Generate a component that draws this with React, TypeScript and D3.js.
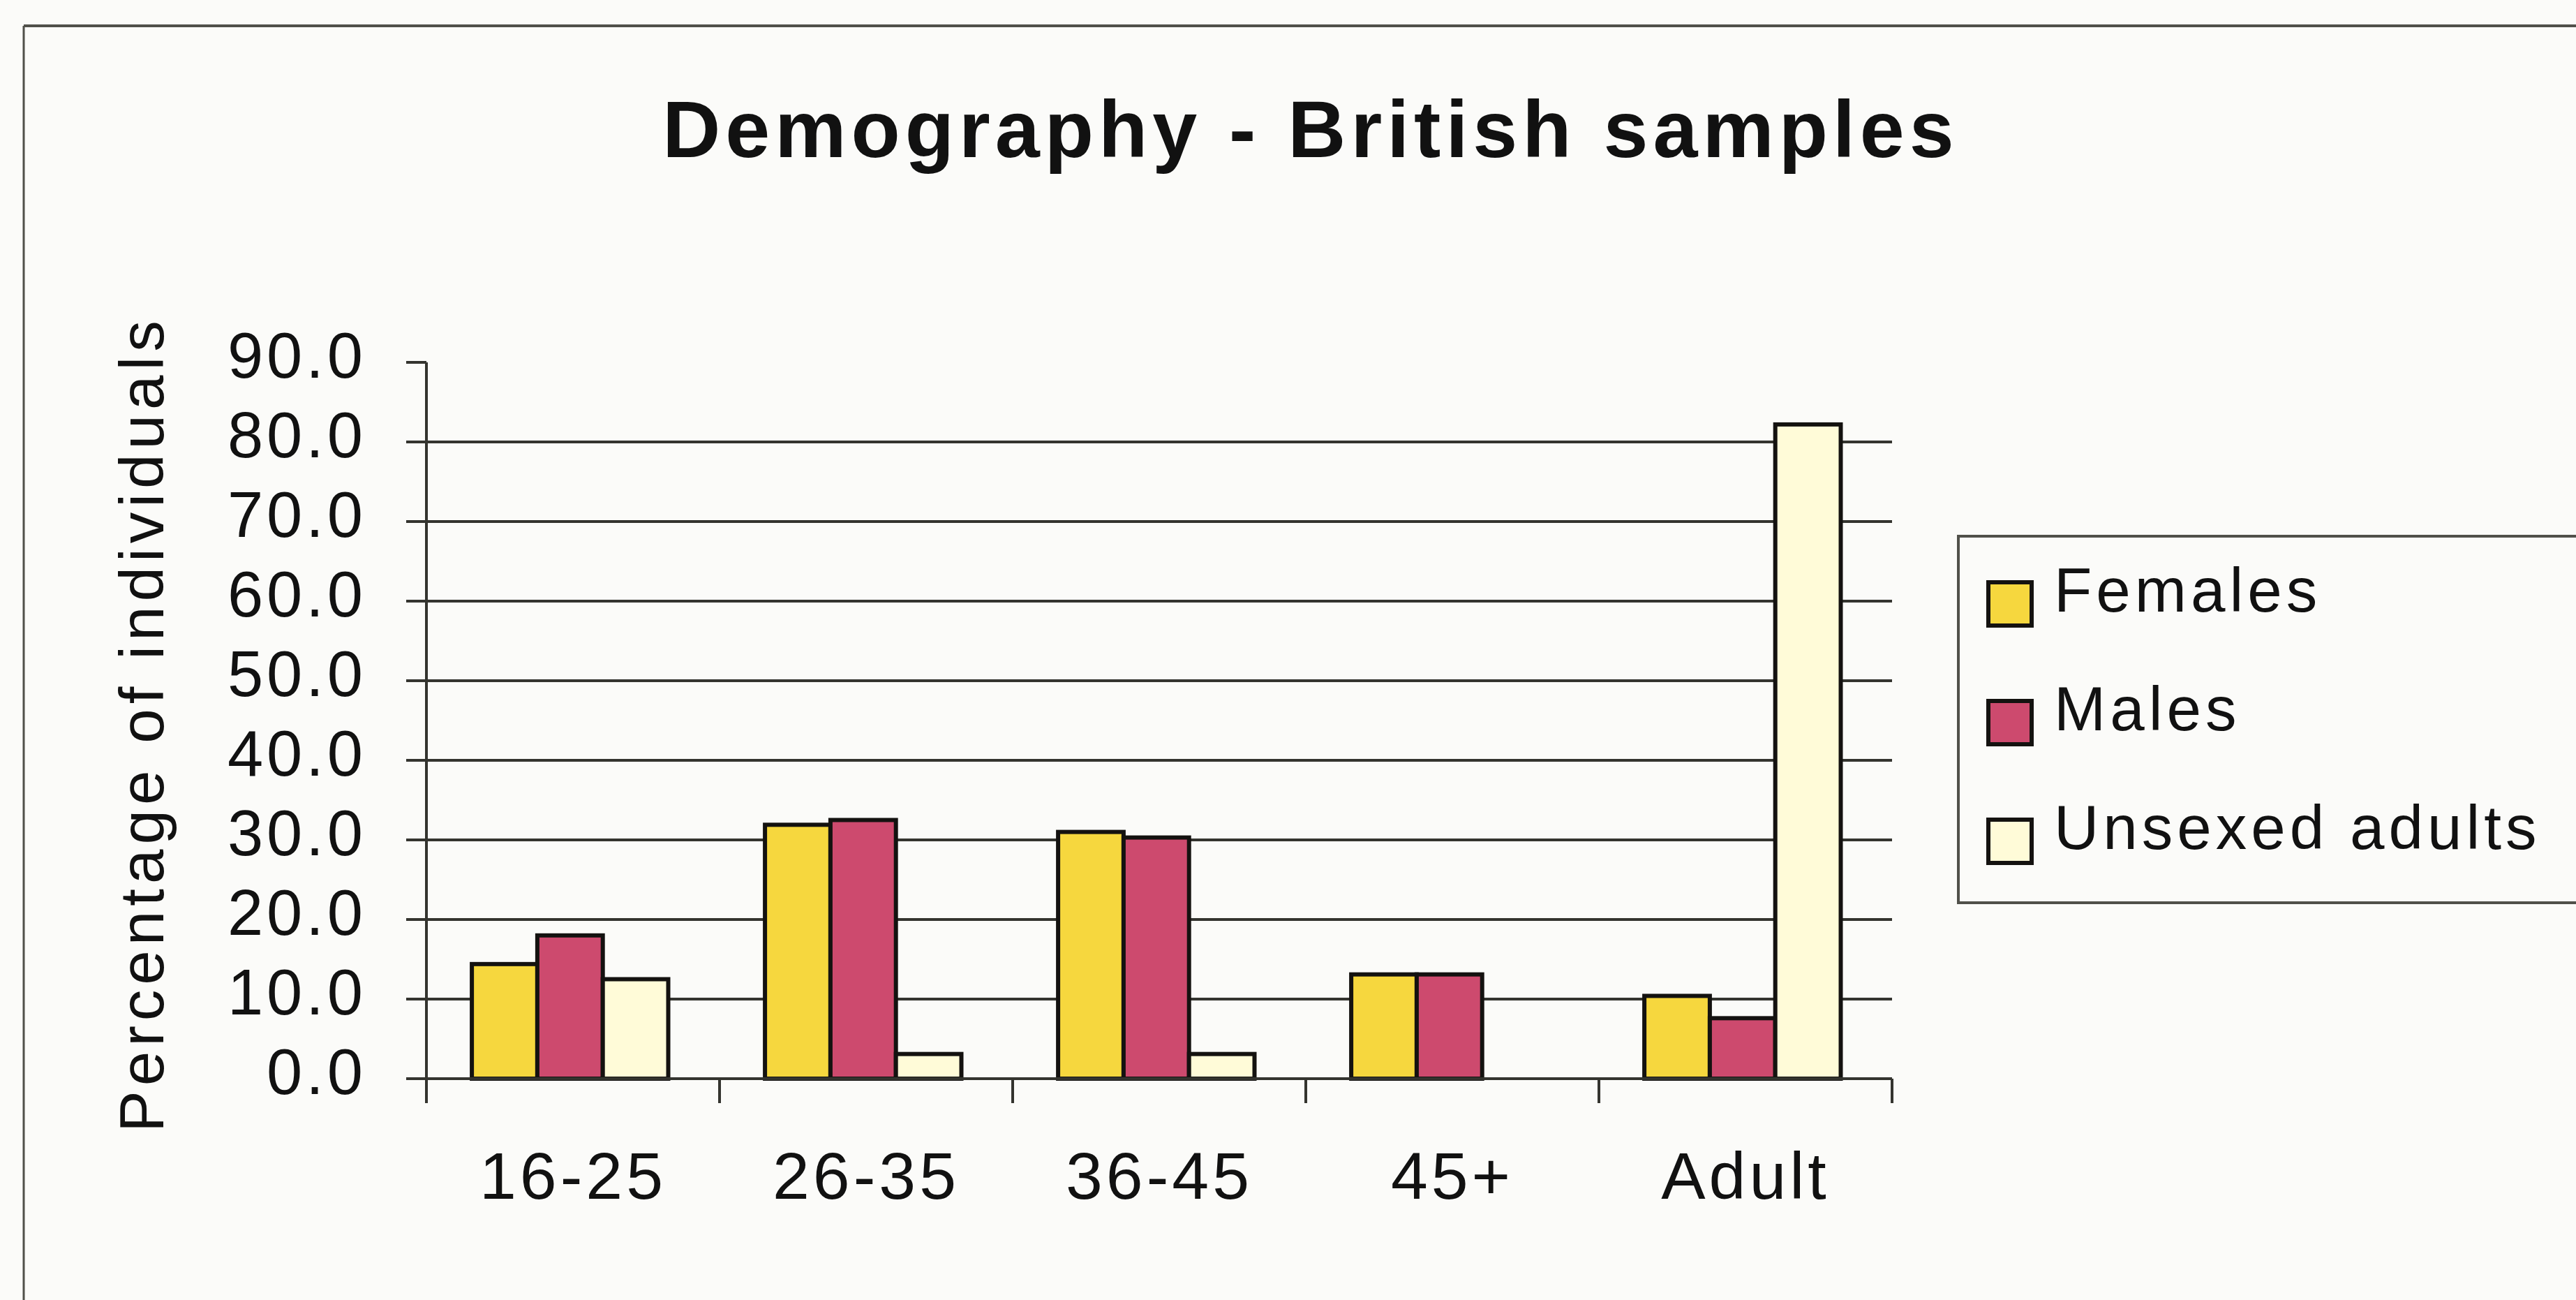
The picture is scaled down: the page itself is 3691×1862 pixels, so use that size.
import React, { useEffect, useRef } from 'react';
import * as d3 from 'd3';

// chart data
const categories = ['16-25', '26-35', '36-45', '45+', 'Adult'];
const seriesNames = ['Females', 'Males', 'Unsexed adults'];
const females = [14.4, 31.9, 31.0, 13.1, 10.4];
const males = [18.0, 32.5, 30.3, 13.1, 7.6];
const unsexed = [12.5, 3.1, 3.1, 0, 82.2];
const seriesColors = ['#f6d73e', '#cd4a6e', '#fffbd8'];
const yTicks = [0, 10, 20, 30, 40, 50, 60, 70, 80, 90];

const W = 3691;
const H = 1862;
const FONT = '"Liberation Sans", Arial, sans-serif';

const App: React.FC = () => {
  const svgRef = useRef<SVGSVGElement>(null);

  useEffect(() => {
    document.body.style.margin = '0';
    document.body.style.overflow = 'hidden';
    if (!svgRef.current) return;
    const svg = d3.select(svgRef.current);
    svg.selectAll('*').remove();

    // background
    svg.append('rect').attr('width', W).attr('height', H).attr('fill', '#fbfbf9');

    // outer chart frame (only top and left visible)
    svg.append('line').attr('x1', 34).attr('x2', W + 10).attr('y1', 37).attr('y2', 37)
      .attr('stroke', '#50504a').attr('stroke-width', 4);
    svg.append('line').attr('x1', 34).attr('x2', 34).attr('y1', 37).attr('y2', H + 10)
      .attr('stroke', '#50504a').attr('stroke-width', 3);

    // title
    svg.append('text')
      .attr('x', 1878).attr('y', 225)
      .attr('text-anchor', 'middle')
      .attr('font-family', FONT).attr('font-weight', 'bold')
      .attr('font-size', 115).attr('letter-spacing', 7)
      .attr('fill', '#111')
      .text('Demography - British samples');

    // scales
    const plotLeft = 611;
    const plotRight = 2711;
    const x0 = d3.scaleBand<string>().domain(categories).range([plotLeft, plotRight]);
    const bw = x0.bandwidth();
    const x1 = d3.scaleBand<string>().domain(seriesNames).range([bw * 0.155, bw * 0.825]);
    const y = d3.scaleLinear().domain([0, 90]).range([1545, 519]);

    const g = svg.append('g');

    // gridlines + y ticks
    yTicks.forEach(t => {
      const yy = y(t);
      g.append('line')
        .attr('x1', plotLeft - 29)
        .attr('x2', t > 0 && t < 90 ? plotRight : plotLeft)
        .attr('y1', yy).attr('y2', yy)
        .attr('stroke', '#34342f').attr('stroke-width', 4);
      g.append('text')
        .attr('x', 525).attr('y', yy + 22)
        .attr('text-anchor', 'end')
        .attr('font-family', FONT).attr('font-size', 92).attr('letter-spacing', 5)
        .attr('fill', '#111')
        .text(d3.format('.1f')(t));
    });

    // bars
    const series = [females, males, unsexed];
    series.forEach((vals, si) => {
      g.selectAll(`.bar-${si}`)
        .data(vals.map((v, i) => ({ v, cat: categories[i] })).filter(d => d.v > 0))
        .enter()
        .append('rect')
        .attr('class', `bar-${si}`)
        .attr('x', d => (x0(d.cat) || 0) + (x1(seriesNames[si]) || 0))
        .attr('y', d => y(d.v))
        .attr('width', x1.bandwidth())
        .attr('height', d => y(0) - y(d.v))
        .attr('fill', seriesColors[si])
        .attr('stroke', '#141210')
        .attr('stroke-width', 6);
    });

    // axes lines
    g.append('line').attr('x1', plotLeft).attr('x2', plotLeft).attr('y1', y(90)).attr('y2', y(0) + 35)
      .attr('stroke', '#34342f').attr('stroke-width', 4);
    g.append('line').attr('x1', plotLeft - 29).attr('x2', plotRight).attr('y1', y(0)).attr('y2', y(0))
      .attr('stroke', '#34342f').attr('stroke-width', 4);

    // x ticks
    const xTickPos = categories.map(c => (x0(c) || 0) + bw).concat([plotLeft]);
    xTickPos.forEach(xx => {
      g.append('line').attr('x1', xx).attr('x2', xx).attr('y1', y(0)).attr('y2', y(0) + 35)
        .attr('stroke', '#34342f').attr('stroke-width', 4);
    });

    // x labels
    categories.forEach(c => {
      g.append('text')
        .attr('x', (x0(c) || 0) + bw / 2).attr('y', 1717)
        .attr('text-anchor', 'middle')
        .attr('font-family', FONT).attr('font-size', 95).attr('letter-spacing', 5)
        .attr('fill', '#111')
        .text(c);
    });

    // y axis title
    svg.append('text')
      .attr('transform', `translate(234, ${(y(0) + y(90)) / 2 + 5}) rotate(-90)`)
      .attr('text-anchor', 'middle')
      .attr('font-family', FONT).attr('font-size', 89).attr('letter-spacing', 7)
      .attr('fill', '#111')
      .text('Percentage of individuals');

    // legend
    const legend = svg.append('g');
    legend.append('rect')
      .attr('x', 2806).attr('y', 768).attr('width', 1000).attr('height', 525)
      .attr('fill', 'none').attr('stroke', '#50504a').attr('stroke-width', 4);
    seriesNames.forEach((name, i) => {
      const base = 876 + i * 170;
      legend.append('rect')
        .attr('x', 2849).attr('y', base - 42).attr('width', 62).attr('height', 62)
        .attr('fill', seriesColors[i]).attr('stroke', '#141210').attr('stroke-width', 6);
      legend.append('text')
        .attr('x', 2943).attr('y', base)
        .attr('font-family', FONT).attr('font-size', 89).attr('letter-spacing', 6)
        .attr('fill', '#111')
        .text(name);
    });
  }, []);

  return <svg ref={svgRef} width={W} height={H} style={{ display: 'block' }} />;
};

export default App;
